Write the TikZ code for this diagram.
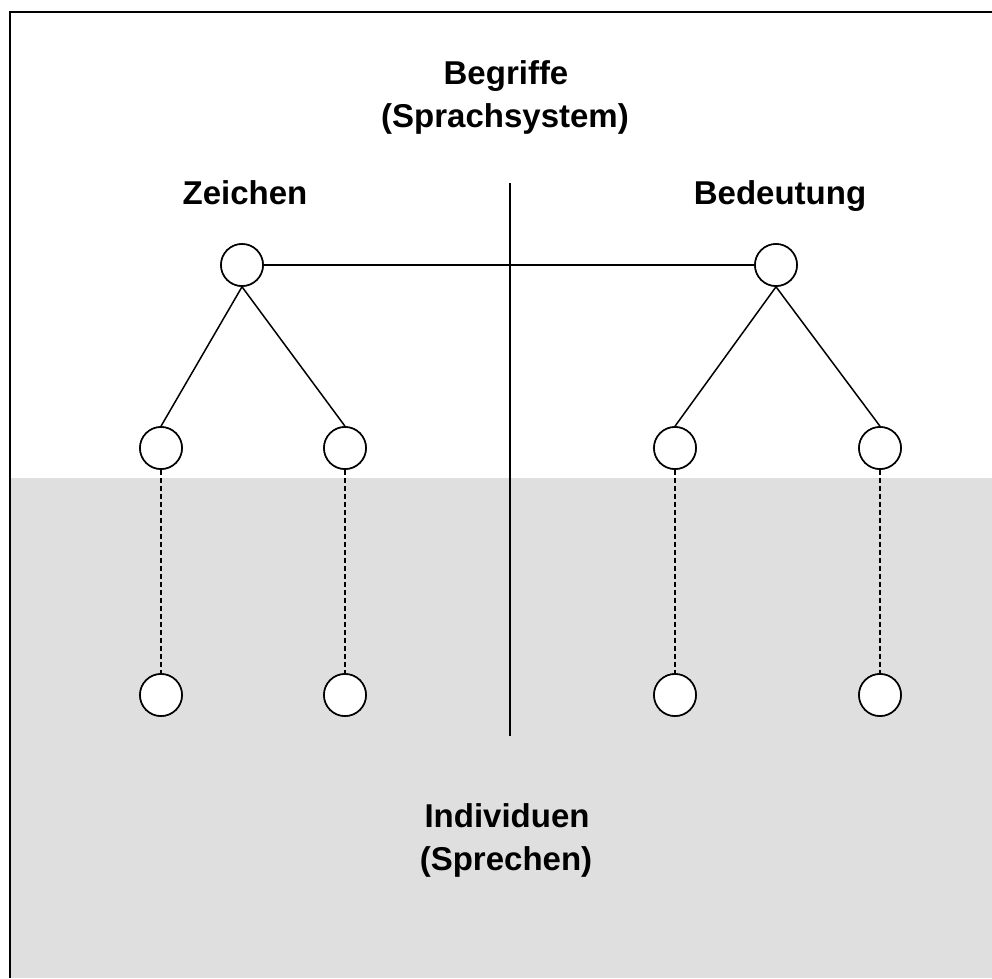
\documentclass[tikz,border=0pt]{standalone}
\usepackage{fontspec}
\setmainfont{Liberation Sans}
\begin{document}
\begin{tikzpicture}[x=1pt,y=-1pt,
  dot/.style={circle,draw=black,fill=white,line width=1.6pt,minimum size=42pt,inner sep=0pt},
  link/.style={line width=1.5pt},
  dlink/.style={line width=1.5pt,dash pattern=on 5pt off 3pt},
  lbl/.style={font=\fontsize{33}{43}\selectfont\bfseries,anchor=base,inner sep=0pt}]
\useasboundingbox (0,0) rectangle (992,978);
\fill[fill={rgb,255:red,223;green,223;blue,223}] (10.5,478) rectangle (992,978);
\draw[line width=2pt] (9.5,978) -- (9.5,11.5) -- (992,11.5);
% divider
\coordinate (dtop) at (510,183);
\coordinate (dbot) at (510,736);
\draw[link] (dtop) -- (dbot);
% nodes
\node[dot] (zt) at (242,265) {};
\node[dot] (bt) at (776,265) {};
\node[dot] (z1) at (161,448) {};
\node[dot] (z2) at (345,448) {};
\node[dot] (b1) at (675,448) {};
\node[dot] (b2) at (880,448) {};
\node[dot] (z1b) at (161,695) {};
\node[dot] (z2b) at (345,695) {};
\node[dot] (b1b) at (675,695) {};
\node[dot] (b2b) at (880,695) {};
% connectors
\draw[link] (zt) -- (bt);
\draw[link] (zt.south) -- (z1.north);
\draw[link] (zt.south) -- (z2.north);
\draw[link] (bt.south) -- (b1.north);
\draw[link] (bt.south) -- (b2.north);
\draw[dlink] (z1) -- (z1b);
\draw[dlink] (z2) -- (z2b);
\draw[dlink] (b1) -- (b1b);
\draw[dlink] (b2) -- (b2b);
% redraw nodes on top
\foreach \n in {zt,bt,z1,z2,b1,b2,z1b,z2b,b1b,b2b} {\node[dot] at (\n) {};}
% labels
\node[lbl] (begr) at (506,84) {Begriffe};
\node[lbl] (spsys) at (505,127) {(Sprachsystem)};
\node[lbl] (zei) at (245,204) {Zeichen};
\node[lbl] (bed) at (780,204) {Bedeutung};
\node[lbl] (ind) at (507,827) {Individuen};
\node[lbl] (spr) at (506,870) {(Sprechen)};
\end{tikzpicture}
\end{document}
